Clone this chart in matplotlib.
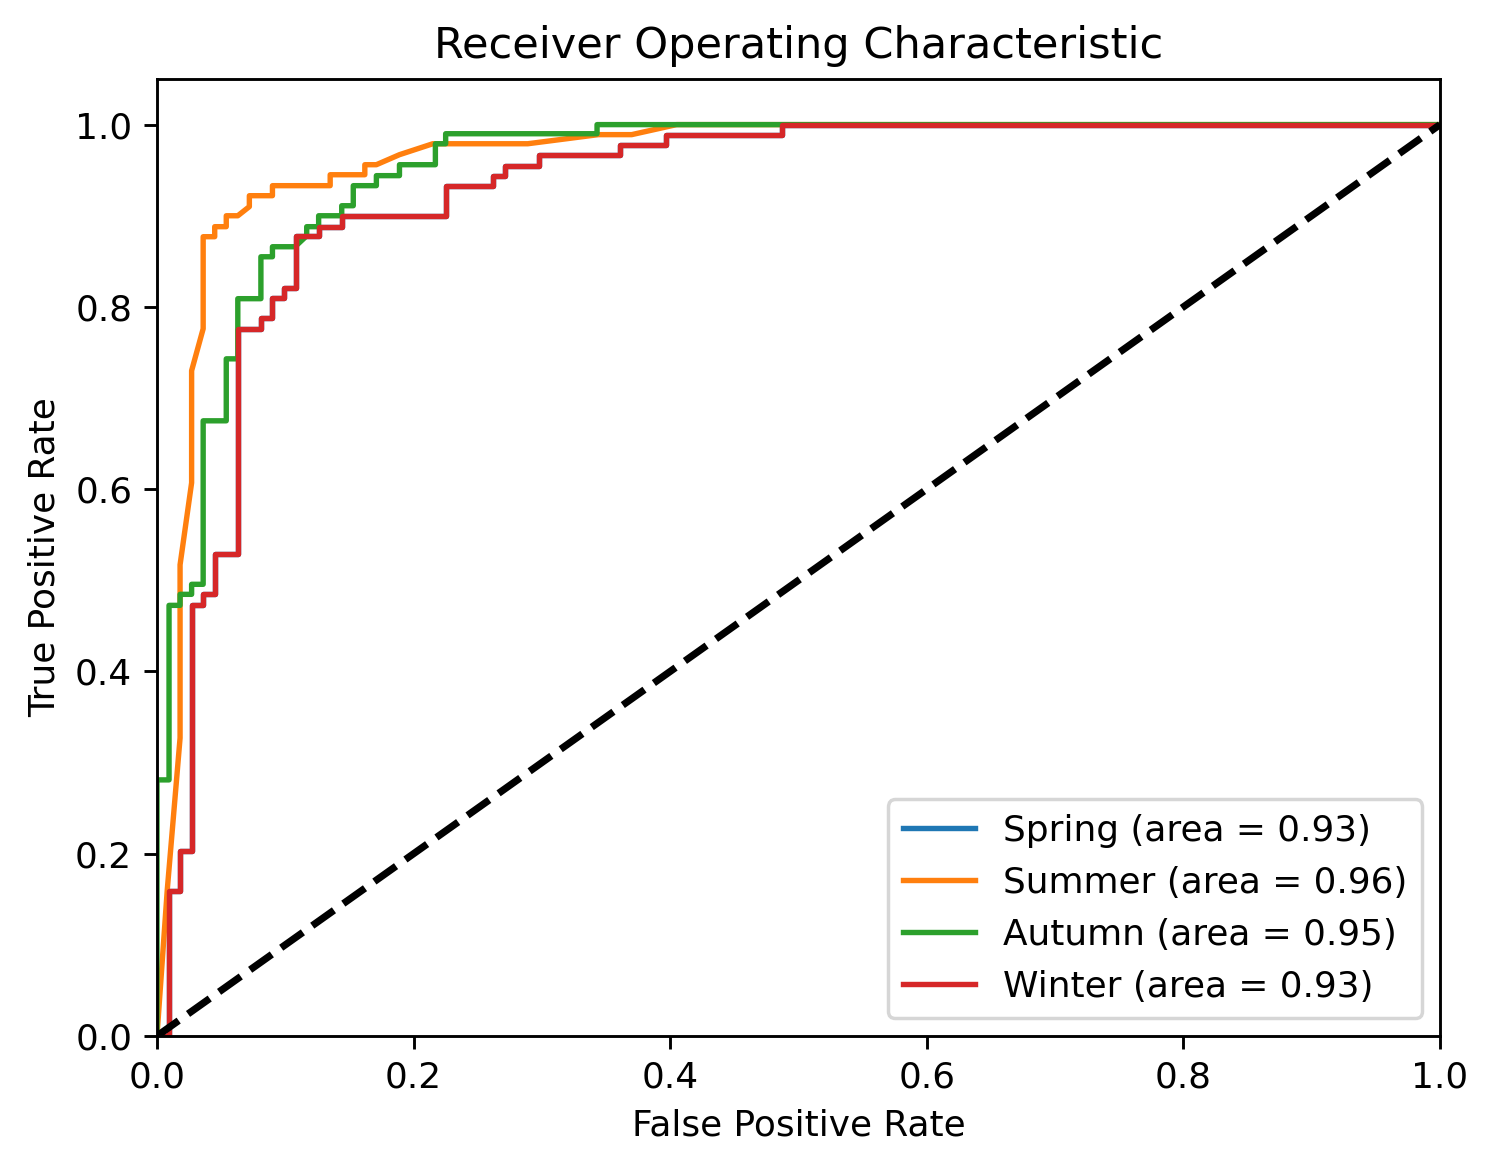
import numpy as np
import matplotlib
matplotlib.use("Agg")
import matplotlib.pyplot as plt

# ROC points (fpr, tpr)
summer_fpr = [0.0, 0.008, 0.018, 0.018, 0.027, 0.027, 0.036, 0.036, 0.045, 0.045, 0.054, 0.054,
              0.063, 0.072, 0.072, 0.090, 0.090, 0.135, 0.135, 0.162, 0.162, 0.171, 0.189, 0.215,
              0.289, 0.344, 0.370, 0.405, 1.0]
summer_tpr = [0.0, 0.160, 0.327, 0.517, 0.607, 0.730, 0.776, 0.877, 0.877, 0.888, 0.888, 0.900,
              0.900, 0.910, 0.922, 0.922, 0.933, 0.933, 0.945, 0.945, 0.956, 0.956, 0.967, 0.979,
              0.979, 0.989, 0.989, 1.0, 1.0]

autumn_fpr = [0.0, 0.0, 0.0094, 0.0094, 0.018, 0.018, 0.027, 0.027, 0.036, 0.036, 0.054, 0.054,
              0.063, 0.063, 0.081, 0.081, 0.090, 0.090, 0.1076, 0.1167, 0.1167, 0.126, 0.126,
              0.144, 0.144, 0.153, 0.153, 0.171, 0.171, 0.189, 0.189, 0.217, 0.217, 0.225, 0.225,
              0.343, 0.343, 1.0]
autumn_tpr = [0.0, 0.281, 0.281, 0.4725, 0.4725, 0.4846, 0.4846, 0.4956, 0.4956, 0.675, 0.675,
              0.743, 0.743, 0.809, 0.809, 0.855, 0.855, 0.866, 0.866, 0.878, 0.888, 0.888, 0.900,
              0.900, 0.911, 0.911, 0.933, 0.933, 0.944, 0.944, 0.956, 0.956, 0.979, 0.979, 0.990,
              0.990, 1.0, 1.0]

winter_fpr = [0.0, 0.0094, 0.0094, 0.018, 0.018, 0.027, 0.027, 0.036, 0.036, 0.045, 0.045, 0.063,
              0.063, 0.081, 0.081, 0.090, 0.090, 0.099, 0.099, 0.108, 0.108, 0.1265, 0.1265, 0.144,
              0.144, 0.225, 0.225, 0.2616, 0.2616, 0.271, 0.271, 0.298, 0.298, 0.361, 0.361, 0.397,
              0.397, 0.4875, 0.4875, 1.0]
winter_tpr = [0.0, 0.0, 0.1586, 0.1586, 0.2026, 0.2026, 0.4725, 0.4725, 0.4846, 0.4846, 0.5286,
              0.5286, 0.776, 0.776, 0.7876, 0.7876, 0.8095, 0.8095, 0.8205, 0.8205, 0.8777, 0.8777,
              0.888, 0.888, 0.900, 0.900, 0.933, 0.933, 0.944, 0.944, 0.955, 0.955, 0.967, 0.967,
              0.978, 0.978, 0.989, 0.989, 1.0, 1.0]

# spring is hidden under winter in the picture
spring_fpr = list(winter_fpr)
spring_tpr = list(winter_tpr)

seasons = ["Spring", "Summer", "Autumn", "Winter"]
areas = [0.93, 0.96, 0.95, 0.93]
curves = [(spring_fpr, spring_tpr), (summer_fpr, summer_tpr),
          (autumn_fpr, autumn_tpr), (winter_fpr, winter_tpr)]

s = 1.035  # the reference is drawn a touch bigger than 250 dpi
plt.rcParams['font.size'] = 10 * s
plt.rcParams['axes.titlesize'] = 12 * s
plt.rcParams['axes.linewidth'] = 0.8 * s
plt.rcParams['xtick.major.width'] = 0.8 * s
plt.rcParams['ytick.major.width'] = 0.8 * s
plt.rcParams['xtick.major.size'] = 3.5 * s
plt.rcParams['ytick.major.size'] = 3.5 * s

fig = plt.figure(figsize=(1495 / 250, 1171 / 250), dpi=250)
ax = fig.add_axes([0.105, 0.1153, 0.8582, 0.8172])

for name, auc, (fpr, tpr) in zip(seasons, areas, curves):
    ax.plot(fpr, tpr, lw=1.5 * s, label='%s (area = %0.2f)' % (name, auc))

ax.plot([0, 1], [0, 1], 'k--', lw=2 * s)
ax.set_xlim([0.0, 1.0])
ax.set_ylim([0.0, 1.05])
ax.set_xlabel('False Positive Rate')
ax.set_ylabel('True Positive Rate')
ax.set_title('Receiver Operating Characteristic')
ax.legend(loc="lower right")

fig.savefig("out.png", dpi=250)
